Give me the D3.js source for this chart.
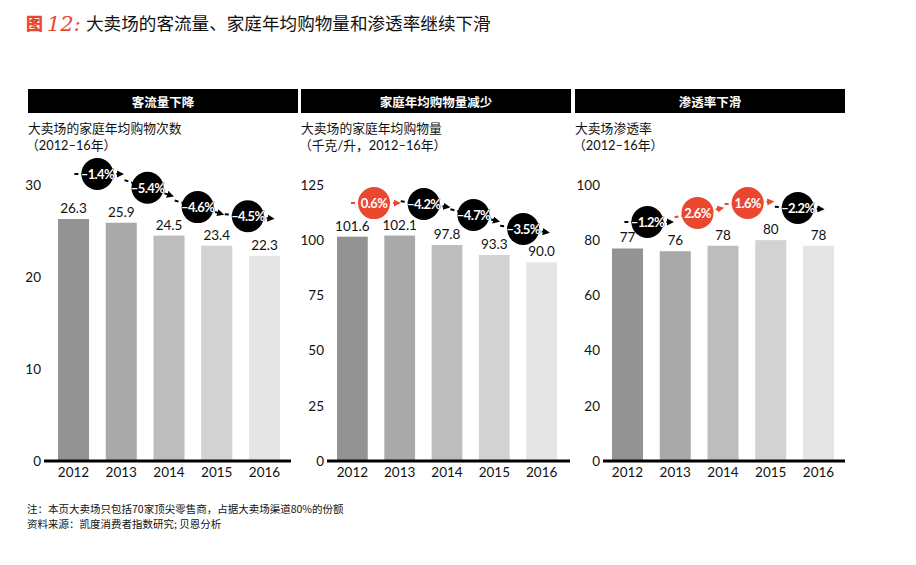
<!DOCTYPE html>
<html><head><meta charset="utf-8">
<script src="https://cdn.jsdelivr.net/npm/d3@7"></script>
<style>body{margin:0;background:#fff}svg{display:block}</style>
</head><body><svg id="c" width="916" height="565"></svg>
<script>
// ---- data ----
const years = ["2012", "2013", "2014", "2015", "2016"];
const visits = [26.3, 25.9, 24.5, 23.4, 22.3];
const volume = [101.6, 102.1, 97.8, 93.3, 90.0];
const penetration = [77, 76, 78, 80, 78];
const visitsChange = [-1.4, -5.4, -4.6, -4.5];
const volumeChange = [0.6, -4.2, -4.7, -3.5];
const penetrationChange = [-1.2, 2.6, 1.6, -2.2];
// height (in each chart's units) at which the change bubbles float
const visitsBubbleLevel = [31.2, 29.7, 27.6, 26.6];
const volumeBubbleLevel = [116.8, 116.4, 111.4, 105.1];
const penetrationBubbleLevel = [86.6, 89.9, 93.5, 91.7];
const visitsTicks = [0, 10, 20, 30];
const volumeTicks = [0, 25, 50, 75, 100, 125];
const penetrationTicks = [0, 20, 40, 60, 80, 100];
const headers = ["客流量下降", "家庭年均购物量减少", "渗透率下滑"];
const subtitles1 = ["大卖场的家庭年均购物次数", "大卖场的家庭年均购物量", "大卖场渗透率"];
const subtitles2 = ["（2012–16年）", "（千克/升，2012–16年）", "（2012–16年）"];
const titleText = "大卖场的客流量、家庭年均购物量和渗透率继续下滑";
const notes = ["注：本页大卖场只包括70家顶尖零售商，占据大卖场渠道80%的份额",
               "资料来源：凯度消费者指数研究; 贝恩分析"];

// ---- layout ----
const barColors = ["#939393", "#a9a9a9", "#bdbdbd", "#d2d2d2", "#e5e5e5"];
const RED = "#e9472f";
const CJK = "'Noto Sans CJK SC', sans-serif";
const NUM = "Lato, 'Noto Sans CJK SC', sans-serif";

const panels = [
  {values: visits, changes: visitsChange, levels: visitsBubbleLevel, ticks: visitsTicks, max: 30,
   x0: 28, axisX0: 44, axisX1: 291, barX0: 58, barX1: 280, shift: 0, fmt: d3.format(".1f")},
  {values: volume, changes: volumeChange, levels: volumeBubbleLevel, ticks: volumeTicks, max: 125,
   x0: 301, axisX0: 327, axisX1: 570, barX0: 337, barX1: 557, shift: -2, fmt: d3.format(".1f")},
  {values: penetration, changes: penetrationChange, levels: penetrationBubbleLevel, ticks: penetrationTicks, max: 100,
   x0: 575, axisX0: 603, axisX1: 845, barX0: 612, barX1: 834, shift: -4, fmt: d3.format("d")}
];

const svg = d3.select("#c");

// defs: arrowheads
const defs = svg.append("defs");
[["arrBlack", "#000"], ["arrRed", RED]].forEach(([id, col]) => {
  defs.append("marker").attr("id", id).attr("viewBox", "0 0 10 10")
    .attr("refX", 2).attr("refY", 5).attr("markerWidth", 3.6).attr("markerHeight", 3.6)
    .attr("orient", "auto").attr("markerUnits", "strokeWidth")
    .append("path").attr("d", "M0,0L10,5L0,10Z").attr("fill", col);
});

// title
svg.append("text").attr("x", 26).attr("y", 30).attr("fill", RED)
  .style("font-family", CJK).style("font-weight", 900).style("font-size", "17px").text("图");
svg.append("text").attr("x", 47).attr("y", 31).attr("fill", RED)
  .style("font-family", "'DejaVu Serif', serif").style("font-style", "italic")
  .style("font-size", "21px").text("12:");
svg.append("text").attr("x", 86).attr("y", 30).attr("fill", "#111")
  .style("font-family", CJK).style("font-weight", 400).style("font-size", "17.6px").text(titleText);

const yBase = 461, yTop = 185, headerW = 270;

panels.forEach((p, pi) => {
  const g = svg.append("g");
  // header bar
  g.append("rect").attr("x", p.x0).attr("y", 89).attr("width", headerW).attr("height", 24).attr("fill", "#000");
  g.append("text").attr("x", p.x0 + headerW / 2).attr("y", 101).attr("text-anchor", "middle")
    .attr("dominant-baseline", "central").attr("fill", "#fff")
    .style("font-family", CJK).style("font-weight", 700).style("font-size", "12.5px").text(headers[pi]);
  // subtitles
  g.append("text").attr("x", p.x0).attr("y", 133).attr("fill", "#111")
    .style("font-family", CJK).style("font-size", "12.8px").text(subtitles1[pi]);
  g.append("text").attr("x", p.x0 - 2).attr("y", 150).attr("fill", "#111")
    .style("font-family", NUM).style("font-size", "12.8px").text(subtitles2[pi]);

  const x = d3.scaleBand().domain(years).range([p.barX0, p.barX1]).paddingInner(0.35).paddingOuter(0);
  const y = d3.scaleLinear().domain([0, p.max]).range([yBase, yTop]);

  // y tick labels
  const yAxis = d3.axisLeft(y).tickValues(p.ticks).tickSize(0).tickPadding(0);
  const ya = g.append("g").attr("transform", `translate(${p.axisX0 - 3},0)`).call(yAxis);
  ya.select(".domain").remove();
  ya.selectAll("text").style("font-family", NUM).style("font-size", "13.5px").attr("fill", "#111");

  // bars
  g.selectAll("rect.bar").data(p.values).join("rect").attr("class", "bar")
    .attr("x", (d, i) => x(years[i])).attr("width", x.bandwidth())
    .attr("y", d => y(d)).attr("height", d => yBase - y(d))
    .attr("fill", (d, i) => barColors[i]);
  // value labels
  g.selectAll("text.val").data(p.values).join("text").attr("class", "val")
    .attr("x", (d, i) => x(years[i]) + x.bandwidth() / 2).attr("y", d => y(d) - 6)
    .attr("text-anchor", "middle").attr("fill", "#111")
    .style("font-family", NUM).style("font-size", "13.5px").text(d => p.fmt(d));

  // x axis
  g.append("line").attr("x1", p.axisX0).attr("x2", p.axisX1).attr("y1", yBase).attr("y2", yBase)
    .attr("stroke", "#000").attr("stroke-width", 3);
  const xAxis = d3.axisBottom(x).tickSize(0).tickPadding(0);
  const xa = g.append("g").attr("transform", `translate(0,${yBase + 6})`).call(xAxis);
  xa.select(".domain").remove();
  xa.selectAll("text").style("font-family", NUM).style("font-size", "13.5px").attr("fill", "#111")
    .attr("dy", "0.71em");

  // change bubbles
  const pts = p.changes.map((c, i) => {
    const mid = (x(years[i]) + x(years[i + 1])) / 2 + x.bandwidth() / 2;
    return {c, cx: mid + p.shift + 2.4 * i, cy: y(p.levels[i])};
  });
  pts.forEach((pt, i) => {
    const prev = pts[i - 1], next = pts[i + 1];
    const sIn = prev ? (pt.cy - prev.cy) / (pt.cx - prev.cx) : 0;
    const sOut = next ? (next.cy - pt.cy) / (next.cx - pt.cx) : 0;
    pt.s = i === 0 ? 0 : (sIn + sOut) / 2;
  });
  pts.forEach(pt => {
    const col = pt.c >= 0 ? RED : "#000";
    g.append("line").attr("x1", pt.cx - 23).attr("y1", pt.cy - pt.s * 23)
      .attr("x2", pt.cx + 21).attr("y2", pt.cy + pt.s * 21)
      .attr("stroke", col).attr("stroke-width", 2).attr("stroke-dasharray", "4,3")
      .attr("marker-end", `url(#${pt.c >= 0 ? "arrRed" : "arrBlack"})`);
    g.append("circle").attr("cx", pt.cx).attr("cy", pt.cy).attr("r", 16).attr("fill", col);
    g.append("text").attr("x", pt.cx).attr("y", pt.cy).attr("text-anchor", "middle")
      .attr("dominant-baseline", "central").attr("fill", "#fff")
      .attr("stroke", col).attr("stroke-width", 0.6).style("paint-order", "stroke")
      .style("font-family", NUM).style("font-weight", 700).style("font-size", "13px")
      .style("letter-spacing", "-0.6px")
      .text((pt.c < 0 ? "–" : "") + Math.abs(pt.c).toFixed(1) + "%");
  });
});

// notes
notes.forEach((t, i) => {
  svg.append("text").attr("x", 27).attr("y", 513 + i * 15).attr("fill", "#111")
    .style("font-family", CJK).style("font-size", "10.5px").text(t);
});
</script></body></html>
